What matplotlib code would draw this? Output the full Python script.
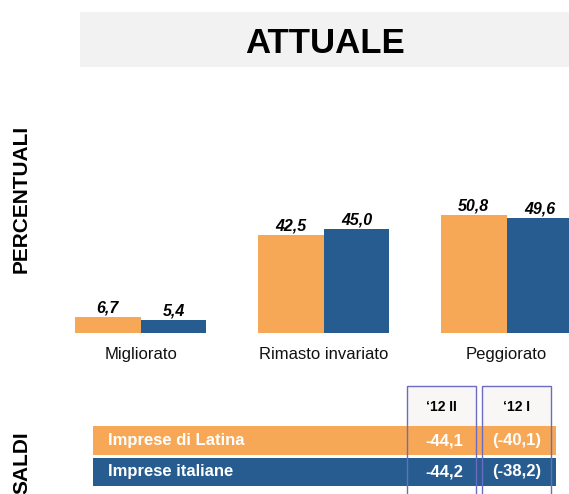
import matplotlib
matplotlib.use('Agg')
import matplotlib.pyplot as plt
from matplotlib.patches import Rectangle
import numpy as np

plt.rcParams['font.family'] = ['Liberation Sans', 'DejaVu Sans']

# data
categories = ['Migliorato', 'Rimasto invariato', 'Peggiorato']
latina = [6.7, 42.5, 50.8]
italia = [5.4, 45.0, 49.6]
series_names = ['Imprese di Latina', 'Imprese italiane']
periods = ['\u201812 II', '\u201812 I']
saldi_latina = [-44.1, -40.1]
saldi_italia = [-44.2, -38.2]

orange = '#F7A857'
blue = '#265C8F'
box_col = '#6B6CBF'

W, H = 569, 494
fig = plt.figure(figsize=(W / 100, H / 100), dpi=100)


def fmt(v):
    return f'{v:.1f}'.replace('.', ',')


# bar axes, laid out in pixels
base_px, top_px = 332.7, 80
grp_px, first_px, bar_px = 183.0, 140.7, 65.7
px_per_unit = 2.31
ax = fig.add_axes([0, (H - base_px) / H, 1, (base_px - top_px) / H])
ax.set_xlim(-first_px / grp_px, (W - first_px) / grp_px)
ax.set_ylim(0, (base_px - top_px) / px_per_unit)
ax.axis('off')

x = np.arange(len(categories))
w = bar_px / grp_px
b1 = ax.bar(x - w / 2, latina, w, color=orange, edgecolor='none')
b2 = ax.bar(x + w / 2, italia, w, color=blue, edgecolor='none')
for bars in (b1, b2):
    for r in bars:
        ax.annotate(fmt(r.get_height()), (r.get_x() + r.get_width() / 2, r.get_height()),
                    xytext=(0, 3.2), textcoords='offset points', ha='center', va='baseline',
                    fontsize=11.5, fontweight='bold', fontstyle='italic', color='black')
for i, c in enumerate(categories):
    ax.annotate(c, (i, 0), xycoords=('data', 'axes fraction'), xytext=(0, -19.2),
                textcoords='offset points', ha='center', va='baseline', fontsize=12,
                color='#111111')

# overlay in pixel coordinates for title box and labels
ov = fig.add_axes([0, 0, 1, 1], zorder=-1)
ov.set_xlim(0, W)
ov.set_ylim(H, 0)
ov.axis('off')

ov.add_patch(Rectangle((80, 12), W - 80, 55, facecolor='#F2F2F2', edgecolor='none'))
ov.text(325.5, 53, 'ATTUALE', ha='center', va='baseline', fontsize=25, fontweight='bold')

ov.text(21.5, 199, 'PERCENTUALI', rotation=90, ha='center', va='center',
        fontsize=15, fontweight='bold')
ov.text(21.5, 463, 'SALDI', rotation=90, ha='center', va='center',
        fontsize=15, fontweight='bold')

# table
ov2 = fig.add_axes([0, 0, 1, 1], zorder=2)
ov2.set_xlim(0, W)
ov2.set_ylim(H, 0)
ov2.axis('off')
ov2.patch.set_alpha(0)

col_x = [406.7, 481.7]
col_w = 69.3
for cx, p in zip(col_x, periods):
    ov2.add_patch(Rectangle((cx, 385.7), col_w, 40.5, facecolor='#F8F7F5', edgecolor='none'))
    ov2.text(cx + col_w / 2, 407, p, ha='center', va='center', fontsize=10, fontweight='bold')

rows = [(series_names[0], saldi_latina, orange, 426.2),
        (series_names[1], saldi_italia, blue, 457.6)]
row_h = 28.6
for name, vals, col, ry in rows:
    ov2.add_patch(Rectangle((93, ry), 556 - 93, row_h, facecolor=col, edgecolor='none'))
    yc = ry + row_h / 2
    ov2.text(108, yc, name, ha='left', va='center', fontsize=12, fontweight='bold', color='white')
    ov2.text(463.5, yc, fmt(vals[0]), ha='right', va='center', fontsize=12,
             fontweight='bold', color='white')
    ov2.text(col_x[1] + col_w / 2, yc, '(' + fmt(vals[1]) + ')', ha='center', va='center',
             fontsize=12, fontweight='bold', color='white')

for cx in col_x:
    ov2.add_patch(Rectangle((cx, 385.7), col_w, 130, facecolor='none', edgecolor=box_col,
                            linewidth=1.0))

fig.savefig('out.png', dpi=100)
